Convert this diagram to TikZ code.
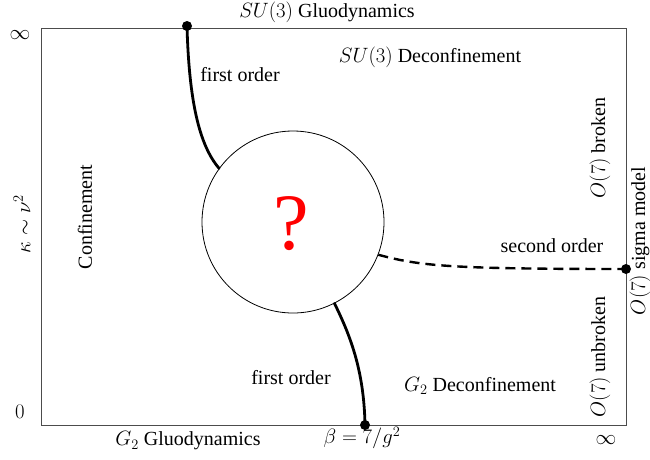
\documentclass[tikz,border=0pt]{standalone}
\usepackage[no-math]{fontspec}
\setmainfont{Liberation Serif}
\begin{document}
\begin{tikzpicture}[x=1pt,y=-1pt,
  every node/.style={font=\fontsize{20}{23}\selectfont, inner sep=0pt},
  lbl/.style={},
  vlbl/.style={rotate=90},
  frame/.style={draw=black!70, line width=0.9pt},
  trans/.style={line width=2.8pt, line cap=round},
  dot/.style={circle, fill=black, minimum size=10pt, inner sep=0pt}]
\useasboundingbox (0,0) rectangle (650,459);
\draw[frame] (41,28) rectangle (626,425);
\node[draw=black, line width=0.8pt, circle, minimum size=182pt] (circ) at (293,222) {};
\node[text=red, font=\fontsize{80}{82}\selectfont] (q) at (291,224) {?};
\node[dot] (topdot) at (187,26) {};
\node[dot] (botdot) at (365,425) {};
\node[dot] (rdot) at (626,269) {};
\draw[trans] (topdot.center) .. controls (189,100) and (199,145) .. (circ.144);
\draw[trans] (circ.-63) .. controls (350,335) and (364,370) .. (botdot.center);
\draw[line width=2.4pt, dash pattern=on 10pt off 6pt] (circ.-21) .. controls (420,266) and (450,269) .. (rdot.center);
\node[lbl] (t1) at (327,12) {$SU(3)$ Gluodynamics};
\node[lbl] (inf1) at (20,35) {$\infty$};
\node[lbl] (zero) at (20,412) {$0$};
\node[lbl] (inf2) at (606,440) {$\infty$};
\node[lbl] (t2) at (188,441) {$G_2$ Gluodynamics};
\node[lbl] (beta) at (362,438) {$\beta = 7/g^2$};
\node[lbl] (fo1) at (240,75) {first order};
\node[lbl] (su3d) at (430,57) {$SU(3)$ Deconfinement};
\node[lbl] (so) at (552,246) {second order};
\node[lbl] (g2d) at (480,386) {$G_2$ Deconfinement};
\node[lbl] (fo2) at (291,378) {first order};
\node[vlbl] (ob) at (600,148) {$O(7)$ broken};
\node[vlbl] (ou) at (600,357) {$O(7)$ unbroken};
\node[vlbl] (os) at (640,241) {$O(7)$ sigma model};
\node[vlbl] (conf) at (85,217) {Confinement};
\node[vlbl] (kap) at (22,224) {$\kappa \sim \nu^2$};
\end{tikzpicture}
\end{document}
